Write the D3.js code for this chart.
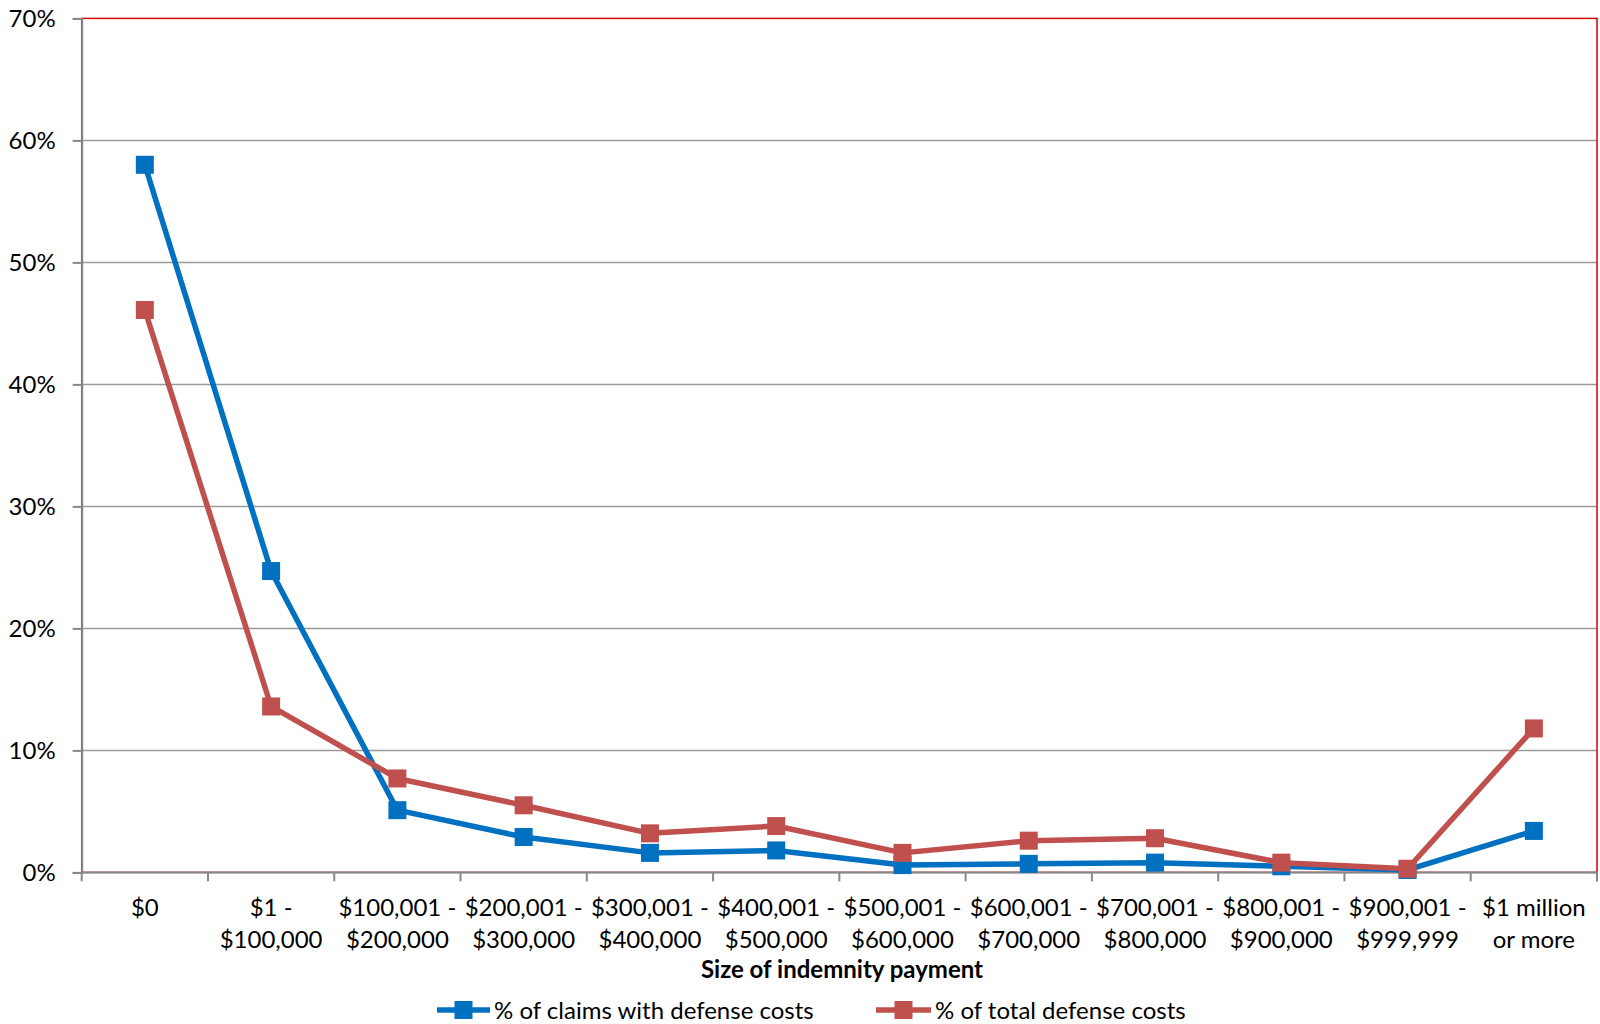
<!DOCTYPE html>
<html>
<head>
<meta charset="utf-8">
<script src="https://cdn.jsdelivr.net/npm/d3@7/dist/d3.min.js"></script>
<style>
  html, body { margin: 0; padding: 0; background: #fff; }
  svg { display: block; font-family: Lato, "Open Sans", sans-serif; }
</style>
</head>
<body>
<svg id="chart" width="1600" height="1024"></svg>
<script>
// Size bands of indemnity payment
const categories = [
  ["$0"],
  ["$1 -", "$100,000"],
  ["$100,001 -", "$200,000"],
  ["$200,001 -", "$300,000"],
  ["$300,001 -", "$400,000"],
  ["$400,001 -", "$500,000"],
  ["$500,001 -", "$600,000"],
  ["$600,001 -", "$700,000"],
  ["$700,001 -", "$800,000"],
  ["$800,001 -", "$900,000"],
  ["$900,001 -", "$999,999"],
  ["$1 million", "or more"]
];

// Percent values per band
const claimsWithDefenseCosts = [58.0, 24.7, 5.1, 2.9, 1.6, 1.8, 0.6, 0.7, 0.8, 0.5, 0.2, 3.4];
const totalDefenseCosts      = [46.1, 13.6, 7.7, 5.5, 3.2, 3.8, 1.6, 2.6, 2.8, 0.8, 0.3, 11.8];

const yTicks = [0, 10, 20, 30, 40, 50, 60, 70];

const seriesNames = ["% of claims with defense costs", "% of total defense costs"];
const seriesColors = ["#0070C0", "#C0504D"];

const svg = d3.select("#chart");
const plotL = 81.7, plotR = 1597, plotT = 18.4, plotB = 872.4;
const fs = 24;

const x = d3.scaleBand()
  .domain(d3.range(categories.length))
  .range([plotL, plotR])
  .paddingInner(0).paddingOuter(0);

const y = d3.scaleLinear().domain([0, 70]).range([plotB, plotT]);

// Horizontal gridlines
svg.append("g")
  .selectAll("line")
  .data(yTicks.slice(1, -1))
  .join("line")
  .attr("x1", plotL).attr("x2", plotR)
  .attr("y1", d => y(d)).attr("y2", d => y(d))
  .attr("stroke", "#9a9a9a").attr("stroke-width", 1.5);

// Plot area frame (top & right edges show red)
svg.append("rect")
  .attr("x", plotL).attr("y", plotT)
  .attr("width", plotR - plotL).attr("height", plotB - plotT)
  .attr("fill", "none")
  .attr("stroke", "#D00000").attr("stroke-width", 1.5);

// Y axis
const yAxis = d3.axisLeft(y).tickValues(yTicks).tickFormat(d => d + "%").tickSize(9).tickPadding(17);
const gy = svg.append("g").attr("transform", `translate(${plotL},0)`).call(yAxis);
gy.select(".domain").attr("stroke", "#888").attr("stroke-width", 2);
gy.selectAll(".tick line").attr("stroke", "#888").attr("stroke-width", 2);
gy.selectAll(".tick text").attr("font-size", fs).attr("fill", "#000").attr("font-family", "Lato");

// X axis: ticks at band boundaries
const boundaries = d3.range(categories.length + 1).map(i => plotL + i * x.bandwidth());
const gx = svg.append("g");
gx.append("line")
  .attr("x1", plotL).attr("x2", plotR).attr("y1", plotB).attr("y2", plotB)
  .attr("stroke", "#888").attr("stroke-width", 2);
gx.selectAll("line.tick")
  .data(boundaries)
  .join("line")
  .attr("class", "tick")
  .attr("x1", d => d).attr("x2", d => d)
  .attr("y1", plotB).attr("y2", plotB + 9)
  .attr("stroke", "#888").attr("stroke-width", 2);

const labels = gx.selectAll("text.cat")
  .data(categories)
  .join("text")
  .attr("class", "cat")
  .attr("text-anchor", "middle")
  .attr("font-size", fs)
  .attr("fill", "#000");
labels.each(function(lines, i) {
  const t = d3.select(this);
  lines.forEach((ln, j) => {
    t.append("tspan")
      .attr("x", x(i) + x.bandwidth() / 2)
      .attr("y", 916 + j * 31.5)
      .text(ln);
  });
});

// Axis title
svg.append("text")
  .attr("x", 842).attr("y", 978)
  .attr("text-anchor", "middle")
  .attr("font-size", fs).attr("font-weight", "bold")
  .attr("fill", "#000")
  .text("Size of indemnity payment");

// Series lines and markers
const allSeries = [claimsWithDefenseCosts, totalDefenseCosts];
const cx = i => x(i) + x.bandwidth() / 2;
const line = d3.line().x((d, i) => cx(i)).y(d => y(d));
const ms = 18;

allSeries.forEach((vals, s) => {
  const g = svg.append("g");
  g.append("path")
    .datum(vals)
    .attr("d", line)
    .attr("fill", "none")
    .attr("stroke", seriesColors[s])
    .attr("stroke-width", 5.5)
    .attr("stroke-linejoin", "round");
  g.selectAll("rect")
    .data(vals)
    .join("rect")
    .attr("x", (d, i) => cx(i) - ms / 2)
    .attr("y", d => y(d) - ms / 2)
    .attr("width", ms).attr("height", ms)
    .attr("fill", seriesColors[s]);
});

// Legend
const legendY = 1010;
const legendItems = [{x0: 437, x1: 490, tx: 494}, {x0: 876, x1: 931, tx: 935}];
legendItems.forEach((it, s) => {
  const g = svg.append("g");
  g.append("line")
    .attr("x1", it.x0).attr("x2", it.x1).attr("y1", legendY).attr("y2", legendY)
    .attr("stroke", seriesColors[s]).attr("stroke-width", 5.5);
  g.append("rect")
    .attr("x", (it.x0 + it.x1) / 2 - ms / 2).attr("y", legendY - ms / 2)
    .attr("width", ms).attr("height", ms)
    .attr("fill", seriesColors[s]);
  g.append("text")
    .attr("x", it.tx).attr("y", legendY + 8.5)
    .attr("font-size", fs).attr("fill", "#000")
    .text(seriesNames[s]);
});
</script>
</body>
</html>
